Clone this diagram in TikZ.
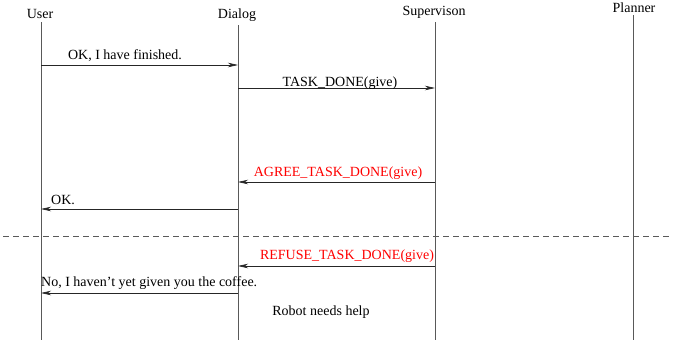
\documentclass[tikz,border=0pt]{standalone}
\usepackage{fontspec}
\setmainfont{Liberation Serif}
\usetikzlibrary{arrows.meta}
\begin{document}
\begin{tikzpicture}[x=1pt,y=-1pt,
  lifeline/.style={draw=black!65,line width=0.9pt},
  msg/.style={draw=black!85,line width=0.7pt,-{Stealth[length=10pt,width=4.5pt,inset=3pt]}},
  lbl/.style={font=\fontsize{14}{16}\selectfont,inner sep=0pt},
  redlbl/.style={lbl,text=red}]
\useasboundingbox (0,0) rectangle (691,340);
% headers
\node[lbl] (user) at (40,14) {User};
\node[lbl] (dialog) at (237,15) {Dialog};
\node[lbl] (sup) at (434,12) {Supervison};
\node[lbl] (plan) at (634,8) {Planner};
% lifeline ends
\coordinate (u0) at (41,22);   \coordinate (u1) at (41,340);
\coordinate (d0) at (238,25);  \coordinate (d1) at (238,340);
\coordinate (s0) at (435,22);  \coordinate (s1) at (435,340);
\coordinate (p0) at (633,15);  \coordinate (p1) at (633,340);
\draw[lifeline] (u0) -- (u1);
\draw[lifeline] (d0) -- (d1);
\draw[lifeline] (s0) -- (s1);
\draw[lifeline] (p0) -- (p1);
% messages
\coordinate (m1a) at (41,65);  \coordinate (m1b) at (238,65);
\draw[msg] (m1a) -- (m1b);
\node[lbl] (t1) at (125,56) {OK, I have finished.};
\coordinate (m2a) at (238,88); \coordinate (m2b) at (435,88);
\draw[msg] (m2a) -- (m2b);
\node[lbl] (t2) at (340,83) {TASK\_DONE(give)};
\coordinate (m3a) at (435,182); \coordinate (m3b) at (238,182);
\draw[msg] (m3a) -- (m3b);
\node[redlbl] (t3) at (338,173) {AGREE\_TASK\_DONE(give)};
\coordinate (m4a) at (238,209); \coordinate (m4b) at (41,209);
\draw[msg] (m4a) -- (m4b);
\node[lbl,anchor=west] (t4) at (51,200) {OK.};
\coordinate (da) at (3,236); \coordinate (db) at (669,236);
\draw[black!65,line width=0.8pt,dash pattern=on 6pt off 4pt] (da) -- (db);
\coordinate (m5a) at (435,266); \coordinate (m5b) at (238,266);
\draw[msg] (m5a) -- (m5b);
\node[redlbl] (t5) at (347,256) {REFUSE\_TASK\_DONE(give)};
\coordinate (m6a) at (238,293); \coordinate (m6b) at (41,293);
\draw[msg] (m6a) -- (m6b);
\node[lbl,anchor=west] (t6) at (41,283) {No, I haven’t yet given you the coffee.};
\node[lbl] (t7) at (321,312) {Robot needs help};
\end{tikzpicture}
\end{document}
